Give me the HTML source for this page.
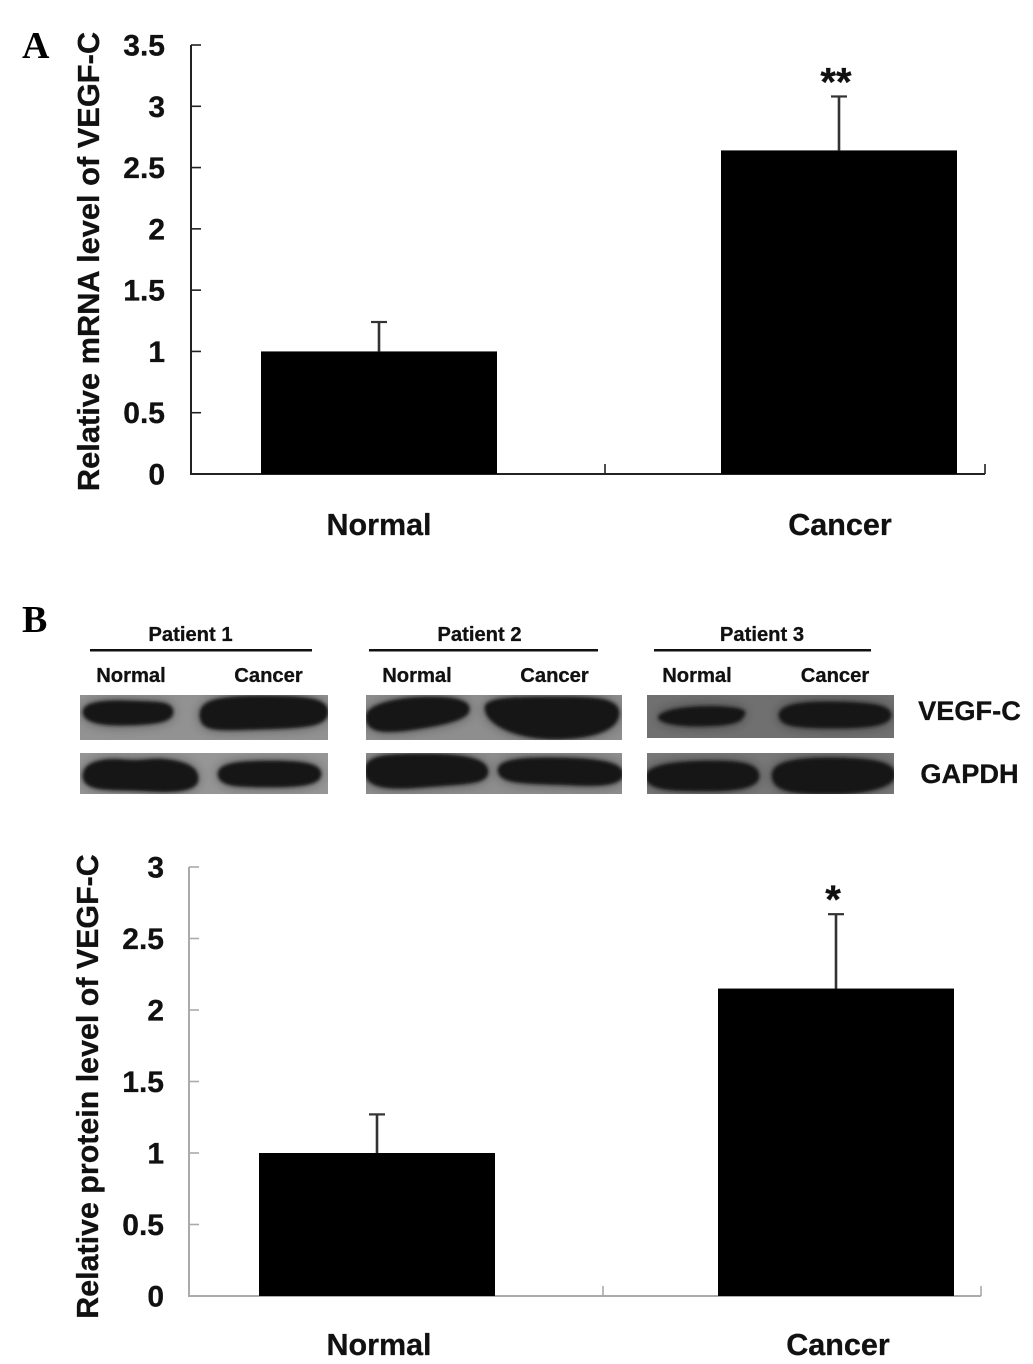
<!DOCTYPE html>
<html>
<head>
<meta charset="utf-8">
<style>
html,body{margin:0;padding:0;background:#fff;width:1033px;height:1364px;overflow:hidden}
svg{display:block}
text{font-family:"Liberation Sans",Arial,sans-serif;font-weight:bold;fill:#111;stroke:#111;stroke-width:.3}
.panel{font-family:"Liberation Serif",serif;font-size:38px;fill:#000;stroke-width:0}
.small{font-size:20.2px}
.rlabel{font-size:27.2px}
</style>
</head>
<body>
<svg id="figure" xmlns="http://www.w3.org/2000/svg" width="1033" height="1364" viewBox="0 0 1033 1364">
<defs>
<filter id="soft" x="-30%" y="-60%" width="160%" height="220%">
<feGaussianBlur in="SourceGraphic" stdDeviation="6" result="halo"/>
<feGaussianBlur in="SourceGraphic" stdDeviation="1.6" result="core"/>
<feComponentTransfer in="halo" result="haloFaint"><feFuncA type="linear" slope="0.45"/></feComponentTransfer>
<feMerge><feMergeNode in="haloFaint"/><feMergeNode in="core"/></feMerge>
</filter>
<clipPath id="clip-blots"><rect x="80" y="695" width="248" height="45"/><rect x="80" y="753" width="248" height="41"/><rect x="366" y="695" width="256" height="45"/><rect x="366" y="753" width="256" height="41"/><rect x="647" y="695" width="247" height="43"/><rect x="647" y="753" width="247" height="41"/></clipPath>
</defs>
<text class="panel" x="22" y="58">A</text>
<text class="panel" x="22" y="632">B</text>

<g>
<text class="small" x="190.500" y="641" text-anchor="middle">Patient 1</text>
<rect x="90" y="649" width="222" height="2.5" fill="#111"/>
<text class="small" x="479.500" y="641" text-anchor="middle">Patient 2</text>
<rect x="369" y="649" width="229" height="2.5" fill="#111"/>
<text class="small" x="762" y="641" text-anchor="middle">Patient 3</text>
<rect x="654" y="649" width="217" height="2.5" fill="#111"/>
<text class="small" x="131" y="682" text-anchor="middle">Normal</text>
<text class="small" x="268.500" y="682" text-anchor="middle">Cancer</text>
<text class="small" x="417" y="682" text-anchor="middle">Normal</text>
<text class="small" x="554.500" y="682" text-anchor="middle">Cancer</text>
<text class="small" x="697" y="682" text-anchor="middle">Normal</text>
<text class="small" x="835" y="682" text-anchor="middle">Cancer</text>
</g>

<g>
<rect x="80" y="695" width="248" height="45" fill="#929292"/>
<rect x="80" y="753" width="248" height="41" fill="#969696"/>
<rect x="366" y="695" width="256" height="45" fill="#8e8e8e"/>
<rect x="366" y="753" width="256" height="41" fill="#8e8e8e"/>
<rect x="647" y="695" width="247" height="43" fill="#707070"/>
<rect x="647" y="753" width="247" height="41" fill="#787878"/>
<g clip-path="url(#clip-blots)"><g filter="url(#soft)" fill="#121212" stroke="#121212" stroke-width="2.5">
<path d="M84 712C84 703 105 701 130 702S171 702 172 711 160 723 130 724 84 721 84 712Z"/>
<path d="M201 717C199 702 215 697 262 697S327 700 327 712 310 727 265 728 203 732 201 717Z"/>
<path d="M84 776C84 762 105 759 125 761S150 758 170 761 198 770 197 780 175 792 145 790 84 792 84 776Z"/>
<path d="M219 774C219 764 240 762 270 762S320 764 320 774 300 786 270 786 219 786 219 774Z"/>
<path d="M367 717C367 705 400 698 430 698S470 703 468 711 440 725 410 729 367 730 367 717Z"/>
<path d="M486 707C487 698 520 698 555 698S618 698 618 713 595 738 555 738 485 723 486 707Z"/>
<path d="M366 771C366 756 385 755 425 755S487 760 487 772 460 783 425 786 366 788 366 771Z"/>
<path d="M499 770C499 760 525 758 565 759S622 765 622 774 605 786 570 784 499 785 499 770Z"/>
<path d="M660 716C668 709 700 706 725 708S744 713 742 717 730 725 700 725 656 720 660 716Z"/>
<path d="M780 715C780 705 805 702 840 703S890 707 890 715 875 727 835 727 780 725 780 715Z"/>
<path d="M647 776C648 765 680 762 715 762S758 768 758 776 745 790 710 790 646 790 647 776Z"/>
<path d="M773 775C773 762 800 758 840 759S894 765 894 775 870 793 830 793 773 790 773 775Z"/>
</g></g>
<text class="rlabel" x="969.500" y="720" text-anchor="middle">VEGF-C</text>
<text class="rlabel" x="969.500" y="783" text-anchor="middle">GAPDH</text>
</g>

<g id="chart-a"></g>
<g id="chart-b"></g>
</svg>
<script>
const categoriesA = ['Normal', 'Cancer'];
const valuesA = [1.0, 2.64];
const errorsA = [0.24, 0.44];
const ticksA = [0, 0.5, 1, 1.5, 2, 2.5, 3, 3.5];
const maxA = 3.5;
const significanceA = ['', '**'];

const categoriesB = ['Normal', 'Cancer'];
const valuesB = [1.0, 2.15];
const errorsB = [0.27, 0.52];
const ticksB = [0, 0.5, 1, 1.5, 2, 2.5, 3];
const maxB = 3;
const significanceB = ['', '*'];

const NS = 'http://www.w3.org/2000/svg';

function make(parent, tag, props, text) {
  const el = document.createElementNS(NS, tag);
  for (const k in props) el.setAttribute(k, props[k]);
  if (text !== undefined) el.textContent = text;
  parent.appendChild(el);
  return el;
}

function drawChart(root, cfg) {
  const y = v => cfg.y0 - (v / cfg.max) * (cfg.y0 - cfg.yTop);
  const x = i => cfg.firstCenter + i * cfg.step;

  const yAxis = make(root, 'line', {x1: cfg.x0, x2: cfg.x0, y1: y(cfg.max), y2: cfg.y0 + 1, stroke: cfg.axisColor, 'stroke-width': 2});
  
  

  const xAxis = make(root, 'line', {x1: cfg.x0, x2: cfg.x1, y1: cfg.y0, y2: cfg.y0, stroke: cfg.axisColor, 'stroke-width': 2});
  
  

  [cfg.midTick, cfg.x1].forEach(px => {
    const t = make(root, 'line', {x1: px, x2: px, y1: cfg.y0, y2: cfg.y0 - 10, stroke: cfg.axisColor, 'stroke-width': 1.6});
    
    
  });

  cfg.ticks.forEach(v => {
    const t = make(root, 'line', {x1: cfg.x0, x2: cfg.x0 + 10, y1: y(v), y2: y(v), stroke: cfg.axisColor, 'stroke-width': 1.6});
    
    
    const lab = make(root, 'text', {x: cfg.labelRight, y: y(v) + 10.5, 'text-anchor': 'end', 'font-size': 30}, String(v));
    
    
  });

  cfg.categories.forEach((c, i) => {
    const cx = x(i);
    const top = y(cfg.values[i]);
    const errTop = y(cfg.values[i] + cfg.errors[i]);

    const stem = make(root, 'line', {x1: cx - cfg.stemShift, x2: cx - cfg.stemShift, y1: top, y2: errTop, stroke: '#333', 'stroke-width': 2.6});
    
    

    const cap = make(root, 'line', {x1: cx - cfg.stemShift - 8, x2: cx - cfg.stemShift + 8, y1: errTop, y2: errTop, stroke: '#333', 'stroke-width': 2.2});
    
    

    const bar = make(root, 'rect', {x: cx - cfg.barWidth / 2, y: top, width: cfg.barWidth, height: cfg.y0 - top, fill: '#000'});
    
    

    const lab = make(root, 'text', {x: cx + cfg.labelShift[i], y: cfg.labelY, 'text-anchor': 'middle', 'font-size': 30.5}, c);
    
    

    if (cfg.sig[i]) {
      const s = make(root, 'text', {x: cx - 3, y: errTop - 1, 'text-anchor': 'middle', 'font-size': 40}, cfg.sig[i]);
      
      
    }
  });

  const title = make(root, 'text', {
    x: 0, y: 0, 'text-anchor': 'middle', 'font-size': cfg.titleSize,
    transform: 'translate(' + cfg.titleX + ',' + cfg.titleY + ') rotate(-90)'
  }, cfg.title);
  
  
}

drawChart(document.getElementById('chart-a'), {
  categories: categoriesA, values: valuesA, errors: errorsA, ticks: ticksA, max: maxA, sig: significanceA,
  x0: 191, x1: 985, midTick: 605, y0: 474, yTop: 45, firstCenter: 379, step: 460, barWidth: 236,
  axisColor: '#222', labelY: 535, labelRight: 165, labelShift: [0, 1], stemShift: 0,
  title: 'Relative mRNA level of VEGF-C', titleX: 99, titleY: 261.5, titleSize: 30.8
});

drawChart(document.getElementById('chart-b'), {
  categories: categoriesB, values: valuesB, errors: errorsB, ticks: ticksB, max: maxB, sig: significanceB,
  x0: 189, x1: 981, midTick: 603, y0: 1296, yTop: 867, firstCenter: 377, step: 459, barWidth: 236,
  axisColor: '#aaa', labelY: 1355, labelRight: 164, labelShift: [2, 2], stemShift: 0,
  title: 'Relative protein level of VEGF-C', titleX: 98, titleY: 1086.5, titleSize: 30.4
});
</script>
</body>
</html>
